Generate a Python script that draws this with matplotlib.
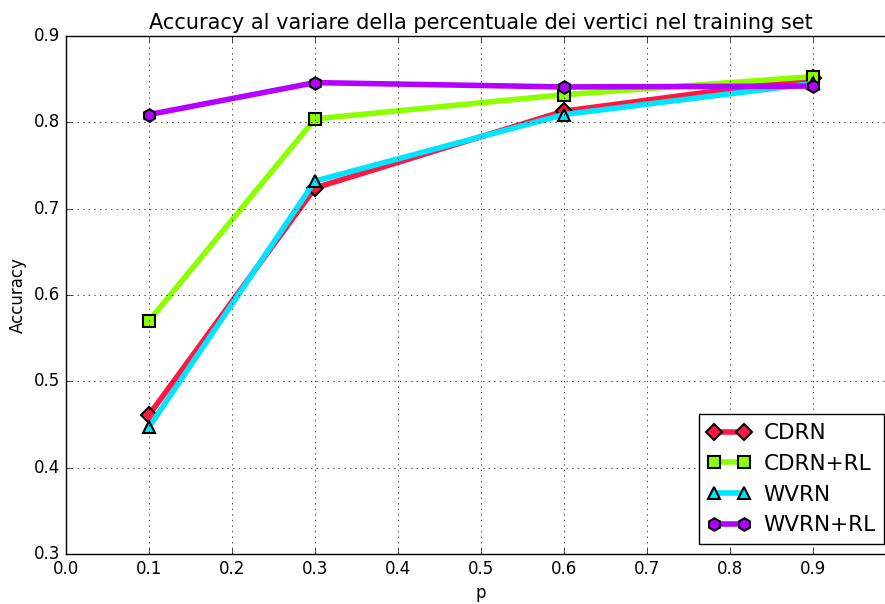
import matplotlib
matplotlib.use('Agg')
import matplotlib.pyplot as plt

# percentuale dei vertici nel training set
p = [0.1, 0.3, 0.6, 0.9]

cdrn = [0.461, 0.724, 0.813, 0.851]
cdrn_rl = [0.570, 0.804, 0.832, 0.853]
wvrn = [0.447, 0.732, 0.809, 0.845]
wvrn_rl = [0.809, 0.846, 0.841, 0.842]

xticks = [0.0, 0.1, 0.2, 0.3, 0.4, 0.5, 0.6, 0.7, 0.8, 0.9]
yticks = [0.3, 0.4, 0.5, 0.6, 0.7, 0.8, 0.9]

plt.style.use('classic')
plt.rcParams['font.family'] = 'DejaVu Sans'

fig = plt.figure(figsize=(8.85, 6.04), dpi=100, facecolor='white')
ax = fig.add_axes([66/885, 50/604, 830/885, 518/604])

ax.plot(p, cdrn, color='#ff1744', lw=4, marker='D', ms=8, mew=1.5, label='CDRN')
ax.plot(p, cdrn_rl, color='#8cff00', lw=4, marker='s', ms=8, mew=1.5, label='CDRN+RL')
ax.plot(p, wvrn, color='#00e5ff', lw=4, marker='^', ms=9, mew=1.5, label='WVRN')
ax.plot(p, wvrn_rl, color='#b300ff', lw=4, marker='h', ms=9, mew=1.5, label='WVRN+RL')

ax.set_xlim(0, 1.0)
ax.set_ylim(0.3, 0.9)
ax.set_xticks(xticks)
ax.set_yticks(yticks)
ax.tick_params(labelsize=12)
ax.grid(True)

ax.set_xlabel('p', fontsize=12)
ax.set_ylabel('Accuracy', fontsize=12)
ax.set_title('Accuracy al variare della percentuale dei vertici nel training set', fontsize=15)

leg = ax.legend(loc='lower right', bbox_to_anchor=(884/885, 60/604), bbox_transform=fig.transFigure,
                borderaxespad=0, fontsize=15.5, numpoints=2, handlelength=2.0,
                handletextpad=0.6)

fig.savefig('out.png', dpi=100, facecolor='white')
